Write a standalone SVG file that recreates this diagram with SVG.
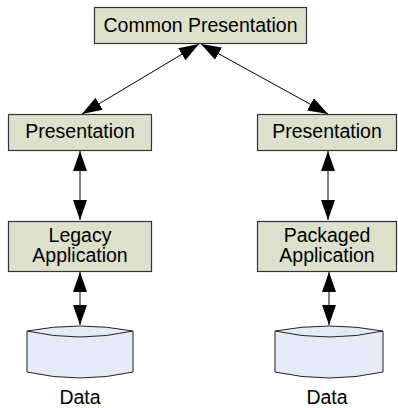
<svg xmlns="http://www.w3.org/2000/svg" width="398" height="408" viewBox="0 0 398 408">
<defs>
<style>
.box{fill:#DDE0CA;stroke:#333;stroke-width:1.2}
.cyl{fill:#E5EBF6;stroke:#222;stroke-width:1}
.arc{fill:none;stroke:#222;stroke-width:1}
.lbl{font-family:"Liberation Sans",Arial,sans-serif;font-size:19.5px;fill:#000;text-anchor:middle}
.con{stroke:#000;stroke-width:1;fill:none;marker-start:url(#ah);marker-end:url(#ah)}
</style>
<marker id="ah" markerUnits="userSpaceOnUse" markerWidth="21" markerHeight="14" refX="20" refY="7" orient="auto-start-reverse" viewBox="0 0 21 14">
<path d="M0,0 L20,7 L0,14 Z" fill="#000"/>
</marker>
</defs>
<rect width="398" height="408" fill="#fff"/>
<g id="connectors">
<line class="con" x1="82" y1="114" x2="199" y2="44"/>
<line class="con" x1="328" y1="114" x2="201" y2="44"/>
<line class="con" x1="80" y1="151" x2="80" y2="220"/>
<line class="con" x1="328" y1="151" x2="328" y2="220"/>
<line class="con" x1="80" y1="272" x2="80" y2="325"/>
<line class="con" x1="329" y1="272" x2="329" y2="325"/>
</g>
<g id="common">
<rect class="box" x="94.5" y="7.5" width="212" height="36"/>
<text class="lbl" x="200.5" y="32">Common Presentation</text>
</g>
<g id="presentation-left">
<rect class="box" x="8.5" y="114.5" width="143" height="36"/>
<text class="lbl" x="80" y="138">Presentation</text>
</g>
<g id="presentation-right">
<rect class="box" x="257.5" y="114.5" width="139" height="36"/>
<text class="lbl" x="327" y="138">Presentation</text>
</g>
<g id="legacy">
<rect class="box" x="8.5" y="221.5" width="143" height="50"/>
<text class="lbl" x="80" y="241.5">Legacy</text>
<text class="lbl" x="80" y="261.5">Application</text>
</g>
<g id="packaged">
<rect class="box" x="257.5" y="221.5" width="139" height="50"/>
<text class="lbl" x="327" y="241.5">Packaged</text>
<text class="lbl" x="327" y="261.5">Application</text>
</g>
<g id="data-left">
<path class="cyl" d="M27,331 Q80,321 133,331 V372 Q80,384 27,372 Z"/>
<path class="arc" d="M27,331 Q80,343 133,331"/>
<text class="lbl" x="80" y="404">Data</text>
</g>
<g id="data-right">
<path class="cyl" d="M275,331 Q329,321 383,331 V372 Q329,384 275,372 Z"/>
<path class="arc" d="M275,331 Q329,343 383,331"/>
<text class="lbl" x="327" y="404">Data</text>
</g>
</svg>
